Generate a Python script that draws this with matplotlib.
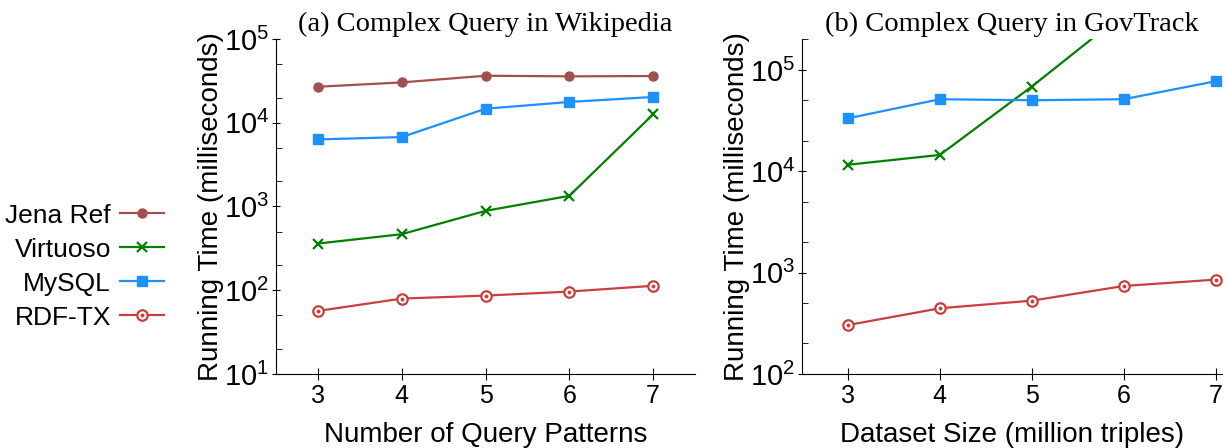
import numpy as np
import matplotlib
matplotlib.use('Agg')
import matplotlib.pyplot as plt
from matplotlib.ticker import LogLocator, NullFormatter
from matplotlib.legend_handler import HandlerTuple

plt.rcParams['font.family'] = ['Liberation Sans', 'DejaVu Sans']
plt.rcParams['mathtext.default'] = 'regular'

x = [3, 4, 5, 6, 7]

# (a) Wikipedia, running time in ms
wiki_jena = [26900, 30300, 36400, 35800, 36100]
wiki_virtuoso = [361, 467, 887, 1340, 12600]
wiki_mysql = [6320, 6740, 14700, 17700, 20300]
wiki_rdftx = [56.6, 79.5, 86.3, 96.4, 113]

# (b) GovTrack, running time in ms (Jena Ref not shown, Virtuoso leaves the plot)
gov_jena = [np.nan, np.nan, np.nan, np.nan, np.nan]
gov_virtuoso = [11600, 14500, 68500, 360000, np.nan]
gov_mysql = [33300, 51400, 50200, 51400, 77300]
gov_rdftx = [304, 445, 529, 738, 853]

names = ['Jena Ref', 'Virtuoso', 'MySQL', 'RDF-TX']
colors = ['#a0504e', '#008000', '#1e90ff', '#c8403e']

fig = plt.figure(figsize=(12.28, 4.48), dpi=100)
ax1 = fig.add_axes([0.2248, 0.1652, 0.3412, 0.7478])
ax2 = fig.add_axes([0.6531, 0.1652, 0.3420, 0.7478])


def draw(ax, jena, virt, mysql, rdftx):
    h = []
    h.append(ax.plot(x, jena, color=colors[0], lw=1.6, marker='o', ms=6.5)[0])
    h.append(ax.plot(x, virt, color=colors[1], lw=1.6, marker='x', ms=7, mew=1.6)[0])
    h.append(ax.plot(x, mysql, color=colors[2], lw=1.6, marker='s', ms=7)[0])
    a = ax.plot(x, rdftx, color=colors[3], lw=1.6, marker='o', ms=7.5,
                mfc='white', mew=1.6)[0]
    b = ax.plot(x, rdftx, ls='none', color=colors[3], marker='o', ms=1.8)[0]
    h.append((a, b))
    return h


handles = draw(ax1, wiki_jena, wiki_virtuoso, wiki_mysql, wiki_rdftx)
draw(ax2, gov_jena, gov_virtuoso, gov_mysql, gov_rdftx)

for ax in (ax1, ax2):
    ax.set_yscale('log')
    ax.spines['top'].set_visible(False)
    ax.spines['right'].set_visible(False)
    ax.set_xticks(x)
    ax.yaxis.set_major_locator(LogLocator(base=10, numticks=10))
    ax.yaxis.set_minor_locator(LogLocator(base=10, subs=(2.0, 5.0), numticks=10))
    ax.yaxis.set_minor_formatter(NullFormatter())
    ax.tick_params(axis='y', which='major', direction='inout', length=6, labelsize=21, pad=2)
    ax.tick_params(axis='y', which='minor', direction='in', length=4)
    ax.tick_params(axis='x', direction='inout', length=8, labelsize=18, pad=3)
    ax.set_ylabel('Running Time (milliseconds)', fontsize=20, labelpad=0)

ax1.set_xlim(2.5, 7.5)
ax1.set_ylim(10, 1e5)
ax2.set_xlim(2.5, 7.07)
ax2.set_ylim(100, 2.02e5)

ax1.set_xlabel('Number of Query Patterns', fontsize=20, labelpad=10)
ax2.set_xlabel('Dataset Size (million triples)', fontsize=20, labelpad=10)
ax1.set_title('(a) Complex Query in Wikipedia', family='Liberation Serif', fontsize=20.5, pad=6)
ax2.set_title('(b) Complex Query in GovTrack', family='Liberation Serif', fontsize=20.5, pad=6)

fig.legend(handles, names, loc='center right', bbox_to_anchor=(177 / 1228, 0.405),
           markerfirst=False, frameon=False, fontsize=19, handlelength=1.65,
           handletextpad=0.35, labelspacing=0.38, borderpad=0,
           handler_map={tuple: HandlerTuple(ndivide=1)})

fig.savefig('out.png', dpi=100)
